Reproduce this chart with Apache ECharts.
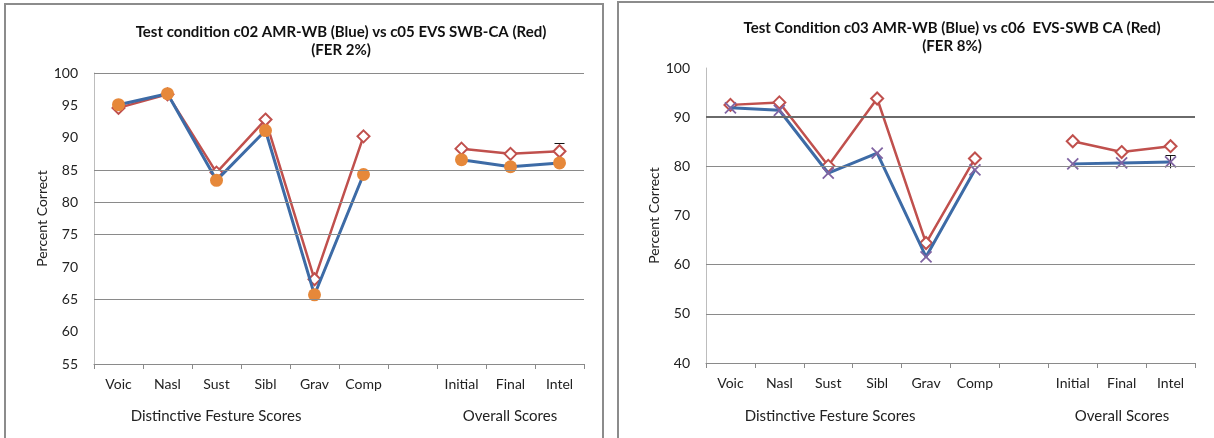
<!DOCTYPE html>
<html>
<head>
<meta charset="utf-8">
<style>
  html, body { margin: 0; padding: 0; background: #ffffff; }
  #chart { width: 1214px; height: 438px; }
</style>
<script src="https://cdn.jsdelivr.net/npm/echarts@6/dist/echarts.min.js"></script>
</head>
<body>
<div id="chart"></div>
<script>
// Category axis: distinctive feature scores, a spacer, then overall scores
const categories = ['Voic', 'Nasl', 'Sust', 'Sibl', 'Grav', 'Comp', '', 'Initial', 'Final', 'Intel'];
const groupLabels = ['Distinctive Festure Scores', 'Overall Scores'];

// FER 2%: c02 AMR-WB (blue) vs c05 EVS SWB-CA (red)
const c02AmrWb = [95.1, 96.8, 83.4, 91.1, 65.7, 84.3, null, 86.6, 85.5, 86.1];
const c05EvsSwb = [94.6, 96.7, 84.6, 92.8, 68.1, 90.2, null, 88.3, 87.5, 87.9];
const errLeft = [[9, 85.4, 89.1]];

// FER 8%: c03 AMR-WB (blue) vs c06 EVS-SWB CA (red)
const c03AmrWb = [91.9, 91.4, 78.6, 82.7, 61.6, 79.3, null, 80.5, 80.7, 80.9];
const c06EvsSwb = [92.5, 93.0, 80.1, 93.8, 64.4, 81.6, null, 85.1, 82.9, 84.1];
const errRight = [[9, 79.6, 82.2]];

// Value axis ranges
const leftTicks = { min: 55, max: 100, interval: 5 };
const rightTicks = { min: 40, max: 100, interval: 10 };

// Horizontal rules that are drawn across each plot
const leftRules = [65, 75, 80, 85, 100];
const rightRules = [50, 60, 80];
const rightStrongRule = 90;

const FONT = 'Lato, "Open Sans", sans-serif';
const BLUE = '#3D6BA6';
const RED = '#C0504D';
const ORANGE = '#E6883A';
const PURPLE = '#8064A2';
const GRID = '#8a8a8a';

const chart = echarts.init(document.getElementById('chart'), null, { renderer: 'canvas' });

function xAxis(gridIndex) {
  return {
    type: 'category', gridIndex, data: categories, boundaryGap: true,
    axisLine: { lineStyle: { color: GRID, width: 1 } },
    axisTick: { show: true, length: 5, lineStyle: { color: GRID } },
    axisLabel: { color: '#222', fontFamily: FONT, fontSize: 14, margin: 13, interval: 0 },
    splitLine: { show: false }
  };
}

function yAxis(gridIndex, ticks, nameGap) {
  return {
    type: 'value', gridIndex, min: ticks.min, max: ticks.max, interval: ticks.interval,
    name: 'Percent Correct', nameLocation: 'middle', nameGap,
    nameTextStyle: { color: '#222', fontFamily: FONT, fontSize: 14 },
    axisLine: { show: true, lineStyle: { color: '#bdbdbd', width: 1 } },
    axisTick: { show: false },
    axisLabel: { color: '#222', fontFamily: FONT, fontSize: 14, margin: 16 },
    splitLine: { show: false }
  };
}

function rules(values, color, width) {
  return {
    silent: true, symbol: 'none', label: { show: false },
    lineStyle: { color, width, type: 'solid' },
    emphasis: { disabled: true },
    data: values.map(v => ({ yAxis: v }))
  };
}

function errorSeries(xi, yi, data) {
  return {
    type: 'custom', xAxisIndex: xi, yAxisIndex: yi, z: 1, silent: true,
    data,
    renderItem(params, api) {
      const x = api.value(0);
      const lo = api.coord([x, api.value(1)]);
      const hi = api.coord([x, api.value(2)]);
      const cap = 5;
      const style = { stroke: '#111', lineWidth: 1 };
      return {
        type: 'group',
        children: [
          { type: 'line', shape: { x1: lo[0], y1: lo[1], x2: hi[0], y2: hi[1] }, style },
          { type: 'line', shape: { x1: hi[0] - cap, y1: hi[1], x2: hi[0] + cap, y2: hi[1] }, style }
        ]
      };
    }
  };
}

const redLine = (xi, yi, data, markLine) => ({
  type: 'line', xAxisIndex: xi, yAxisIndex: yi, data, connectNulls: false, z: 2,
  lineStyle: { color: RED, width: 2.5 },
  symbol: 'diamond', symbolSize: 12,
  itemStyle: { color: '#ffffff', borderColor: RED, borderWidth: 2 },
  markLine
});

const titleStyle = { fontFamily: FONT, fontSize: 15, fontWeight: 'bold', color: '#111', lineHeight: 18 };

const option = {
  backgroundColor: '#ffffff',
  animation: false,
  title: [
    {
      text: 'Test condition c02 AMR-WB (Blue) vs c05 EVS SWB-CA (Red)\n(FER 2%)',
      left: 336, top: 18, textAlign: 'center', textStyle: titleStyle
    },
    {
      text: 'Test Condition c03 AMR-WB (Blue) vs c06  EVS-SWB CA (Red)\n(FER 8%)',
      left: 947, top: 14, textAlign: 'center', textStyle: titleStyle
    }
  ],
  grid: [
    { left: 94, top: 73, width: 490, height: 291 },
    { left: 706, top: 68, width: 489, height: 295 }
  ],
  xAxis: [xAxis(0), xAxis(1)],
  yAxis: [yAxis(0, leftTicks, 45), yAxis(1, rightTicks, 45)],
  graphic: [
    { type: 'rect', shape: { x: 5, y: 4, width: 598, height: 460 }, style: { fill: 'none', stroke: '#8c8c8c', lineWidth: 2 }, silent: true },
    { type: 'rect', shape: { x: 618, y: 2, width: 610, height: 460 }, style: { fill: 'none', stroke: '#8c8c8c', lineWidth: 2 }, silent: true },
    { type: 'text', x: 216, y: 416, style: { text: groupLabels[0], fontFamily: FONT, fontSize: 15, fill: '#222', textAlign: 'center', textVerticalAlign: 'middle' } },
    { type: 'text', x: 510, y: 416, style: { text: groupLabels[1], fontFamily: FONT, fontSize: 15, fill: '#222', textAlign: 'center', textVerticalAlign: 'middle' } },
    { type: 'text', x: 830, y: 416, style: { text: groupLabels[0], fontFamily: FONT, fontSize: 15, fill: '#222', textAlign: 'center', textVerticalAlign: 'middle' } },
    { type: 'text', x: 1122, y: 416, style: { text: groupLabels[1], fontFamily: FONT, fontSize: 15, fill: '#222', textAlign: 'center', textVerticalAlign: 'middle' } }
  ],
  series: [
    errorSeries(0, 0, errLeft),
    redLine(0, 0, c05EvsSwb, rules(leftRules, GRID, 1)),
    {
      type: 'line', xAxisIndex: 0, yAxisIndex: 0, data: c02AmrWb, connectNulls: false, z: 3,
      lineStyle: { color: BLUE, width: 3 },
      symbol: 'circle', symbolSize: 13,
      itemStyle: { color: ORANGE, borderColor: ORANGE, borderWidth: 0 }
    },
    errorSeries(1, 1, errRight),
    redLine(1, 1, c06EvsSwb, rules(rightRules, GRID, 1)),
    {
      type: 'line', xAxisIndex: 1, yAxisIndex: 1, data: c03AmrWb, connectNulls: false, z: 3,
      lineStyle: { color: BLUE, width: 3 },
      symbol: 'path://M0,0 L10,10 M10,0 L0,10', symbolSize: 11,
      itemStyle: { color: 'none', borderColor: PURPLE, borderWidth: 1.8 },
      markLine: rules([rightStrongRule], '#6a6a6a', 2)
    }
  ]
};

chart.setOption(option);
</script>
</body>
</html>
